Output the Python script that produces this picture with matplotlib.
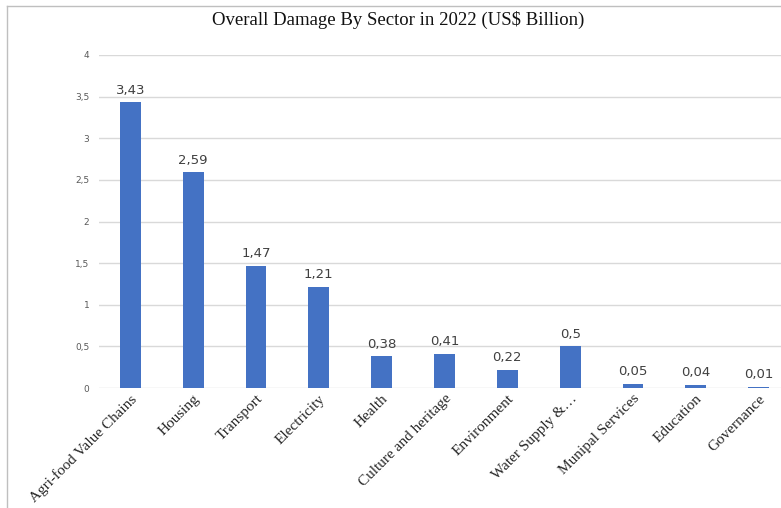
import matplotlib
matplotlib.use("Agg")
import matplotlib.pyplot as plt
from matplotlib.lines import Line2D

# data
sectors = ["Agri-food Value Chains", "Housing", "Transport", "Electricity", "Health",
           "Culture and heritage", "Environment", "Water Supply &…", "Munipal Services",
           "Education", "Governance"]
damage = [3.43, 2.59, 1.47, 1.21, 0.38, 0.41, 0.22, 0.5, 0.05, 0.04, 0.01]
yticks = [0, 0.5, 1, 1.5, 2, 2.5, 3, 3.5, 4]

W, H = 781, 508
fig = plt.figure(figsize=(W / 100, H / 100), dpi=100)

# plot area (right side runs past the image edge, as in the cropped original)
left, right, top, bottom = 99, 790, 55, 388
ax = fig.add_axes([left / W, (H - bottom) / H, (right - left) / W, (bottom - top) / H])

x = range(len(sectors))
ax.bar(x, damage, width=0.33, color="#4472C4", zorder=3)
for xi, v in zip(x, damage):
    ax.text(xi, v + 0.07, f"{v:g}".replace(".", ","), ha="center", va="bottom",
            fontsize=9.5, color="#404040", family="DejaVu Sans")

ax.set_xlim(-0.5, len(sectors) - 0.5)
ax.set_ylim(0, 4)
ax.set_yticks(yticks)
ax.set_yticklabels([f"{t:g}".replace(".", ",") for t in yticks], fontsize=6.5,
                   color="#595959", family="DejaVu Sans")
ax.yaxis.grid(True, color="#D9D9D9", linewidth=1)
ax.set_axisbelow(True)
ax.tick_params(axis="y", length=0, pad=7)
ax.tick_params(axis="x", length=0, pad=3)
ax.set_xticks(list(x))
ax.set_xticklabels(sectors, rotation=45, ha="right", rotation_mode="anchor",
                   fontsize=11, family="Liberation Serif", color="#262626")
for s in ax.spines.values():
    s.set_visible(False)

fig.text(398 / W, 1 - 20 / H, "Overall Damage By Sector in 2022 (US$ Billion)",
         ha="center", va="center", fontsize=13.5, family="Liberation Serif",
         color="#111111")

# thin frame of the original screenshot (left and top edges only)
fig.add_artist(Line2D([7 / W, 7 / W], [0, 1 - 6 / H], color="#BFBFBF", lw=1))
fig.add_artist(Line2D([7 / W, 1], [1 - 6 / H, 1 - 6 / H], color="#BFBFBF", lw=1))

fig.savefig("out.png", dpi=100)
